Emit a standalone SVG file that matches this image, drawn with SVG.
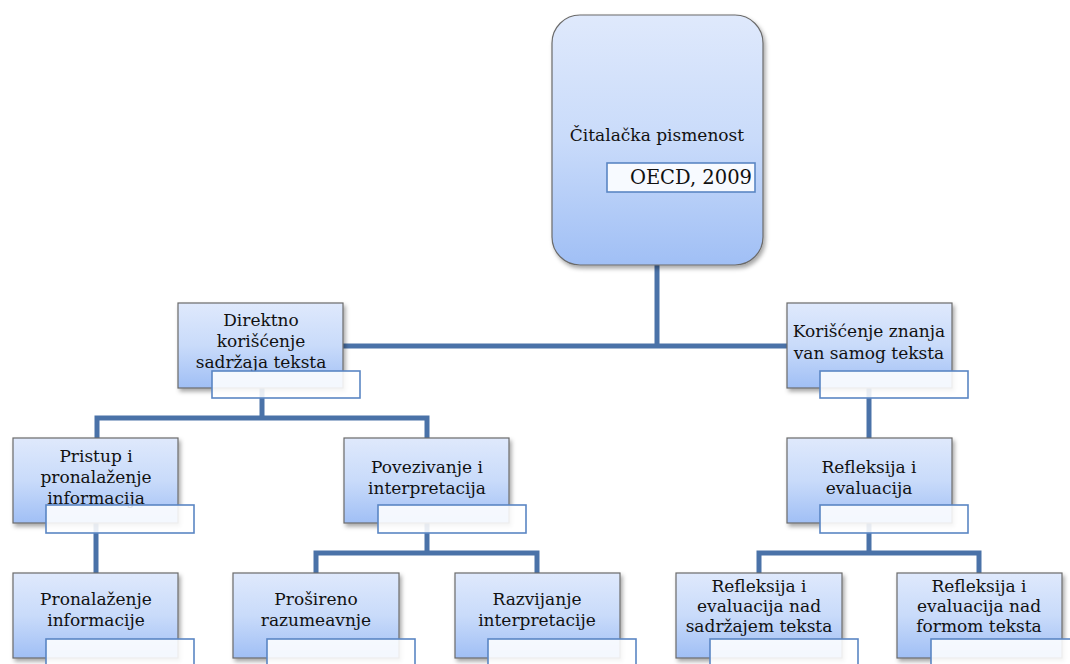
<svg xmlns="http://www.w3.org/2000/svg" width="1070" height="664" viewBox="0 0 1070 664">
  <defs>
    <linearGradient id="boxFill" x1="0" y1="0" x2="0" y2="1">
      <stop offset="0" stop-color="#dfe9fc"/>
      <stop offset="0.5" stop-color="#c9dbfa"/>
      <stop offset="1" stop-color="#a0bff5"/>
    </linearGradient>
    <filter id="shadow" x="-10%" y="-10%" width="125%" height="130%">
      <feDropShadow dx="2" dy="3" stdDeviation="2" flood-color="#000" flood-opacity="0.35"/>
    </filter>
    <style>
      .box { fill: url(#boxFill); stroke: #6b6b6b; stroke-width: 1.2; filter: url(#shadow); }
      .tag { fill: #ffffff; fill-opacity: 0.88; stroke: #5a86c4; stroke-width: 1.6; }
      .lbl { font-family: "DejaVu Serif", "Liberation Serif", serif; font-size: 17px; fill: #111; text-anchor: middle; }
      .conn { fill: none; stroke: #4a72a8; stroke-width: 5; stroke-linejoin: miter; }
    </style>
  </defs>

  <rect width="1070" height="664" fill="#ffffff"/>

  <!-- connectors -->
  <g id="connectors">
    <path class="conn" d="M657 265 V346 M343 346 H787"/>
    <path class="conn" d="M262 388 V418 M97 438 V418 H427 V438"/>
    <path class="conn" d="M869 388 V438"/>
    <path class="conn" d="M96 523 V573"/>
    <path class="conn" d="M427 523 V553 M316 573 V553 H537 V573"/>
    <path class="conn" d="M869 523 V553 M759 573 V553 H979 V573"/>
  </g>

  <!-- root -->
  <g id="root">
    <rect class="box" x="552" y="15" width="211" height="250" rx="28" ry="28"/>
    <text class="lbl" x="657" y="141">Čitalačka pismenost</text>
    <rect class="tag" x="607" y="163" width="148" height="29"/>
    <text x="752" y="184" font-family="DejaVu Serif, Liberation Serif, serif" font-size="19.5px" fill="#111" text-anchor="end">OECD, 2009</text>
  </g>

  <!-- level 1 -->
  <g id="direktno">
    <rect class="box" x="178" y="303" width="165" height="85"/>
    <text class="lbl" x="261" y="326"><tspan x="261">Direktno</tspan><tspan x="261" dy="21">korišćenje</tspan><tspan x="261" dy="21">sadržaja teksta</tspan></text>
    <rect class="tag" x="212" y="371" width="148" height="27"/>
  </g>
  <g id="koriscenje">
    <rect class="box" x="787" y="303" width="165" height="85"/>
    <text class="lbl" x="869" y="337"><tspan x="869">Korišćenje znanja</tspan><tspan x="869" dy="22">van samog teksta</tspan></text>
    <rect class="tag" x="820" y="371" width="148" height="27"/>
  </g>

  <!-- level 2 -->
  <g id="pristup">
    <rect class="box" x="13" y="438" width="165" height="85"/>
    <text class="lbl" x="96" y="462"><tspan x="96">Pristup i</tspan><tspan x="96" dy="21">pronalaženje</tspan><tspan x="96" dy="21">informacija</tspan></text>
    <rect class="tag" x="46" y="505" width="148" height="28"/>
  </g>
  <g id="povezivanje">
    <rect class="box" x="344" y="438" width="165" height="85"/>
    <text class="lbl" x="427" y="473"><tspan x="427">Povezivanje i</tspan><tspan x="427" dy="21">interpretacija</tspan></text>
    <rect class="tag" x="378" y="505" width="148" height="28"/>
  </g>
  <g id="refleksija">
    <rect class="box" x="787" y="438" width="165" height="85"/>
    <text class="lbl" x="869" y="473"><tspan x="869">Refleksija i</tspan><tspan x="869" dy="21">evaluacija</tspan></text>
    <rect class="tag" x="820" y="505" width="148" height="28"/>
  </g>

  <!-- level 3 -->
  <g id="pronalazenje">
    <rect class="box" x="13" y="573" width="165" height="85"/>
    <text class="lbl" x="96" y="605"><tspan x="96">Pronalaženje</tspan><tspan x="96" dy="21">informacije</tspan></text>
    <rect class="tag" x="46" y="639" width="148" height="30"/>
  </g>
  <g id="prosireno">
    <rect class="box" x="233" y="573" width="166" height="85"/>
    <text class="lbl" x="316" y="605"><tspan x="316">Prošireno</tspan><tspan x="316" dy="21">razumeavnje</tspan></text>
    <rect class="tag" x="267" y="639" width="148" height="30"/>
  </g>
  <g id="razvijanje">
    <rect class="box" x="455" y="573" width="165" height="85"/>
    <text class="lbl" x="537" y="605"><tspan x="537">Razvijanje</tspan><tspan x="537" dy="21">interpretacije</tspan></text>
    <rect class="tag" x="488" y="639" width="148" height="30"/>
  </g>
  <g id="refleksija-sadrzaj">
    <rect class="box" x="676" y="573" width="166" height="85"/>
    <text class="lbl" x="759" y="592"><tspan x="759">Refleksija i</tspan><tspan x="759" dy="20">evaluacija nad</tspan><tspan x="759" dy="20">sadržajem teksta</tspan></text>
    <rect class="tag" x="710" y="639" width="148" height="30"/>
  </g>
  <g id="refleksija-forma">
    <rect class="box" x="897" y="573" width="165" height="85"/>
    <text class="lbl" x="979" y="592"><tspan x="979">Refleksija i</tspan><tspan x="979" dy="20">evaluacija nad</tspan><tspan x="979" dy="20">formom teksta</tspan></text>
    <rect class="tag" x="931" y="639" width="148" height="30"/>
  </g>
</svg>
